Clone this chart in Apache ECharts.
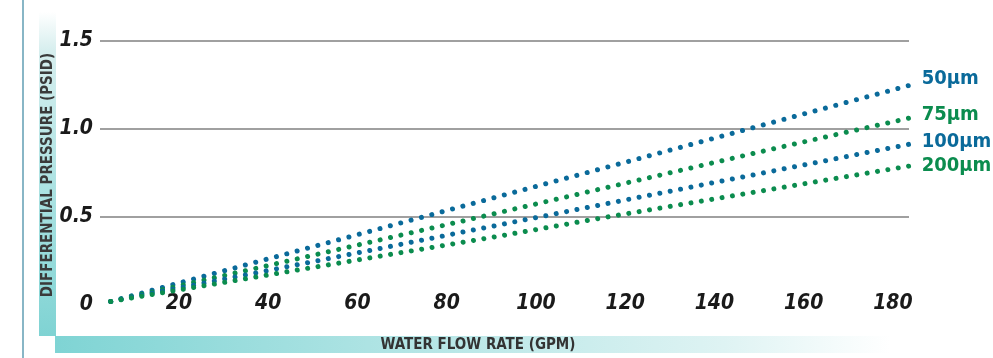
<!DOCTYPE html>
<html>
<head>
<meta charset="utf-8">
<script src="https://cdn.jsdelivr.net/npm/echarts@6/dist/echarts.min.js"></script>
<style>
html,body{margin:0;padding:0;background:#fff;}
#c{width:993px;height:358px;}
</style>
</head>
<body>
<div id="c"></div>
<script>
// ---- data ----
var seriesNames = ['50\u00b5m', '75\u00b5m', '100\u00b5m', '200\u00b5m'];
var gpm50  = [4.7, 73.6, 114.9, 184.0];
var psi50  = [0.02, 0.493, 0.776, 1.25];
var gpm75  = [4.7, 83.9, 153.6, 184.0];
var psi75  = [0.02, 0.479, 0.890, 1.064];
var gpm100 = [4.7, 66.0, 115.5, 184.0];
var psi100 = [0.02, 0.326, 0.574, 0.915];
var gpm200 = [4.7, 91.9, 115.5, 184.0];
var psi200 = [0.02, 0.392, 0.498, 0.791];
var xTickLabels = [20, 40, 60, 80, 100, 120, 140, 160, 180];
var yTickLabels = [0, 0.5, 1.0, 1.5];
var xTitle = 'WATER FLOW RATE (GPM)';
var yTitle = 'DIFFERENTIAL PRESSURE (PSID)';

var BLUE = '#0a6a9a', GREEN = '#0b8c4e';
var NARROW = "'Liberation Sans Narrow','DejaVu Sans Condensed','Liberation Sans',sans-serif";

function pairs(xs, ys){ return xs.map(function(x,i){ return [x, ys[i]]; }); }

function mkSeries(name, xs, ys, color, gap, dy){
  return {
    type:'line', name:name, data:pairs(xs, ys), showSymbol:false, symbol:'none',
    clip:false, silent:true, animation:false,
    lineStyle:{color:color, width:5, type:[0.01, gap], cap:'round'},
    endLabel:{show:true, formatter:'{a}', color:color, distance:11, offset:[0, dy],
      fontFamily:NARROW, fontWeight:'bold', fontSize:20, align:'left', verticalAlign:'middle'}
  };
}

var chart = echarts.init(document.getElementById('c'), null, {renderer:'canvas'});
chart.setOption({
  animation:false,
  backgroundColor:'#ffffff',
  grid:{left:100, right:84, top:41, bottom:53, containLabel:false},
  xAxis:{
    type:'value', min:2.3, max:183.6,
    axisLine:{show:false}, axisTick:{show:false}, splitLine:{show:false},
    axisLabel:{customValues:xTickLabels, margin:-1.5, verticalAlign:'middle',
      fontFamily:NARROW, fontWeight:'bold', fontStyle:'italic', fontSize:21, color:'#1a1a1a'}
  },
  yAxis:{
    type:'value', min:0, max:1.5, interval:0.5,
    axisLine:{show:false}, axisTick:{show:false},
    splitLine:{show:true, showMinLine:false, lineStyle:{color:'#a0a0a0', width:2}},
    axisLabel:{margin:7, fontFamily:NARROW, fontWeight:'bold', fontStyle:'italic', fontSize:21, color:'#1a1a1a',
      formatter:function(v){ return v===0 ? '0' : v.toFixed(1); }}
  },
  graphic:[
    {type:'rect', shape:{x:22, y:0, width:2, height:358}, style:{fill:'#88b6c6'}, silent:true, z:-10},
    {type:'rect', shape:{x:39, y:12, width:17, height:324}, silent:true, z:-10,
      style:{fill:new echarts.graphic.LinearGradient(0,0,0,1,[
        {offset:0, color:'rgba(255,255,255,1)'},
        {offset:0.12, color:'#d6eeee'},
        {offset:0.35, color:'#bfe8e8'},
        {offset:1, color:'#7fd3d3'}])}},
    {type:'rect', shape:{x:55, y:336, width:835, height:17}, silent:true, z:-10,
      style:{fill:new echarts.graphic.LinearGradient(0,0,1,0,[
        {offset:0, color:'#7fd4d4'},
        {offset:0.45, color:'#b6e6e6'},
        {offset:0.8, color:'#def3f3'},
        {offset:1, color:'#ffffff'}])}},
    {type:'text', x:48, y:175, rotation:Math.PI/2, silent:true, z:-5,
      style:{text:yTitle, font:"bold 15px "+NARROW, fill:'#3a3a3a', align:'center', verticalAlign:'middle'}},
    {type:'text', x:478, y:345, silent:true, z:-5,
      style:{text:xTitle, font:"bold 15px "+NARROW, fill:'#333333', align:'center', verticalAlign:'middle'}}
  ],
  series:[
    mkSeries(seriesNames[0], gpm50, psi50, BLUE, 10.72, -6),
    mkSeries(seriesNames[1], gpm75, psi75, GREEN, 10.62, -3),
    mkSeries(seriesNames[2], gpm100, psi100, BLUE, 10.55, -2),
    mkSeries(seriesNames[3], gpm200, psi200, GREEN, 10.5, 0)
  ]
});
</script>
</body>
</html>
